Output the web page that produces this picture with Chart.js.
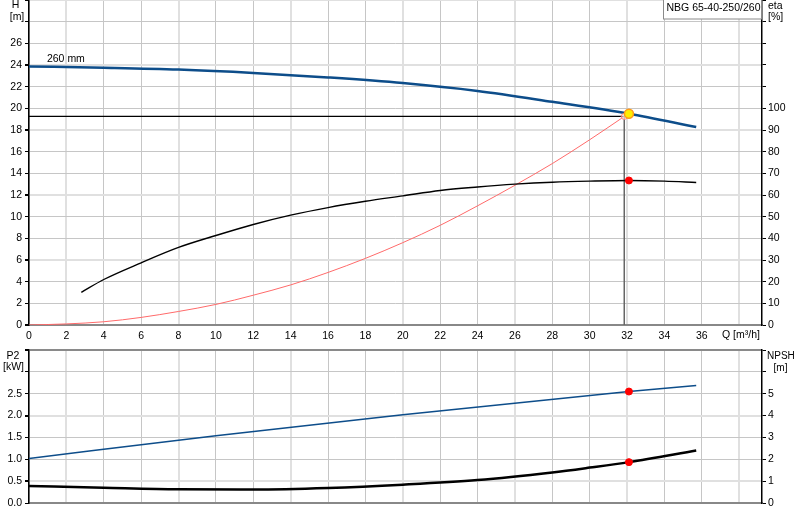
<!DOCTYPE html>
<html>
<head>
<meta charset="utf-8">
<script src="https://cdn.jsdelivr.net/npm/chart.js@4.4.1/dist/chart.umd.min.js"></script>
<style>
  html, body { margin: 0; padding: 0; background: #fff; }
  #wrap { position: relative; width: 800px; height: 520px; }
  canvas { position: absolute; left: 0; }
  #top { top: 0; }
  #bottom { top: 346px; }
</style>
</head>
<body>
<div id="wrap">
  <canvas id="top" width="800" height="346"></canvas>
  <canvas id="bottom" width="800" height="174"></canvas>
</div>
<script>
const qTicks = [0, 2, 4, 6, 8, 10, 12, 14, 16, 18, 20, 22, 24, 26, 28, 30, 32, 34, 36, 38];
const hTicks = [0, 2, 4, 6, 8, 10, 12, 14, 16, 18, 20, 22, 24, 26, 28, 30];
const etaTicks = [0, 10, 20, 30, 40, 50, 60, 70, 80, 90, 100, 110, 120, 130, 140, 150];
const p2Ticks = [0, 0.5, 1.0, 1.5, 2.0, 2.5, 3.0, 3.5];
const npshTicks = [0, 1, 2, 3, 4, 5, 6, 7];

// pump head, 260 mm impeller
const qHead = [0, 4, 8, 12, 16, 20, 24, 28, 32.1, 35.7];
const head = [23.87, 23.75, 23.58, 23.27, 22.85, 22.33, 21.6, 20.6, 19.5, 18.28];

// efficiency
const qEta = [2.8, 4, 6, 8, 10, 12, 14, 16, 18, 20, 22, 24, 26, 28, 30, 32.1, 34, 35.7];
const eta = [15.1, 21.0, 28.7, 35.8, 41.3, 46.4, 50.7, 54.2, 57.1, 59.6, 62.1, 63.7, 65.0, 65.9, 66.4, 66.7, 66.4, 65.8];

// system curve
const qSystem = [0, 2, 4, 6, 8, 10, 12, 14, 16, 18, 20, 22, 24, 26, 28, 30, 31.85];
const systemH = [0, 0.1, 0.3, 0.7, 1.25, 1.9, 2.75, 3.7, 4.85, 6.15, 7.6, 9.2, 11.0, 12.9, 14.9, 17.1, 19.25];

// shaft power P2 [kW]
const qP2 = [0, 10, 20, 32.1, 35.7];
const p2 = [1.02, 1.54, 2.02, 2.55, 2.69];

// NPSH [m]
const qNpsh = [0, 4, 8, 12, 16, 20, 24, 28, 30, 32.1, 35.7];
const npsh = [0.78, 0.70, 0.63, 0.62, 0.69, 0.84, 1.05, 1.40, 1.62, 1.87, 2.40];

// duty / operating point
const opQ = 31.85, opH = 19.25;
const dutyQ = 32.1, dutyH = 19.5, dutyEta = 66.7, dutyP2 = 2.55, dutyNpsh = 1.87;

const FONT = '"Liberation Sans", Arial, sans-serif';
const pts = (xs, ys) => xs.map((x, i) => ({ x: x, y: ys[i] }));

// grid look: every third line drawn lighter and wider, like the sheet
const gridColor = light => light ? '#e0e0e0' : '#c6c6c6';
const near = (v, step, off) => Math.abs(((v - off) / step) - Math.round((v - off) / step)) < 1e-6;

function xScale(showLabels, height) {
    return {
        type: 'linear', min: 0, max: 39.22,
        afterBuildTicks: s => { s.ticks = qTicks.map(v => ({ value: v })); },
        afterFit: s => { s.height = height; s.paddingLeft = 0; s.paddingRight = 0; },
        ticks: {
            display: showLabels, color: '#000', padding: 1,
            font: { family: FONT, size: 10.5 },
            callback: v => (v > 36 ? '' : v)
        },
        grid: {
            color: c => gridColor(near(c.tick.value, 6, 2)),
            lineWidth: c => near(c.tick.value, 6, 2) ? 2 : 1,
            tickLength: 4, tickColor: 'transparent'
        },
        border: { color: '#888', width: 2 }
    };
}

function yScale(pos, ticks, max, limit, fmt, grid, width, lightFn, topColor) {
    return {
        type: 'linear', position: pos, min: 0, max: max,
        afterBuildTicks: s => { s.ticks = ticks.map(v => ({ value: v })); },
        afterFit: s => { s.width = width; s.paddingTop = 0; s.paddingBottom = 0; },
        ticks: {
            color: '#000', padding: pos === 'left' ? 3 : 2,
            font: { family: FONT, size: 10.5 },
            callback: v => (v > limit + 1e-9 ? '' : fmt(v))
        },
        grid: {
            drawOnChartArea: grid,
            color: c => (topColor && c.tick.value === max) ? topColor
                : gridColor(lightFn ? lightFn(c.tick.value) : false),
            lineWidth: c => (lightFn && lightFn(c.tick.value)) ? 2 : 1,
            tickLength: 4, tickColor: '#000'
        },
        border: { color: '#000', width: 1.5 }
    };
}

function label(ctx, text, x, y, align) {
    ctx.textAlign = align || 'left';
    ctx.textBaseline = 'middle';
    ctx.fillText(text, x, y);
}

const topTexts = {
    id: 'topTexts',
    afterDraw(chart) {
        const ctx = chart.ctx, xs = chart.scales.x, ys = chart.scales.y;
        ctx.save();
        ctx.fillStyle = '#000';
        ctx.font = '10.5px ' + FONT;
        label(ctx, 'H', 15.5, 5, 'center');
        label(ctx, '[m]', 17, 17.5, 'center');
        label(ctx, 'eta', 768, 6);
        label(ctx, '[%]', 768, 17.5);
        label(ctx, 'Q [m\u00B3/h]', 722, 335);
        label(ctx, '260 mm', xs.getPixelForValue(0.96), ys.getPixelForValue(24.55));
        // model box
        ctx.fillStyle = '#fff';
        ctx.fillRect(663.5, -1, 98, 20);
        ctx.strokeStyle = '#8a8a8a';
        ctx.lineWidth = 1;
        ctx.strokeRect(663.5, -1.5, 98, 20.5);
        ctx.fillStyle = '#000';
        label(ctx, 'NBG 65-40-250/260', 666.5, 8);
        ctx.restore();
    }
};

const bottomTexts = {
    id: 'bottomTexts',
    afterDraw(chart) {
        const ctx = chart.ctx;
        ctx.save();
        ctx.fillStyle = '#000';
        ctx.font = '10.5px ' + FONT;
        label(ctx, 'P2', 13, 10, 'center');
        label(ctx, '[kW]', 13.5, 21.5, 'center');
        ctx.font = '10px ' + FONT;
        label(ctx, 'NPSH', 767, 10.5);
        label(ctx, '[m]', 780.5, 22, 'center');
        ctx.restore();
    }
};

const noAnim = { animation: false, responsive: false, devicePixelRatio: 1 };
const plain = { legend: { display: false }, tooltip: { enabled: false } };

new Chart(document.getElementById('top'), {
    type: 'line',
    data: {
        datasets: [
            { data: [{ x: dutyQ, y: dutyH }], yAxisID: 'y', showLine: false,
              pointRadius: 4.5, pointBackgroundColor: '#ffee00', pointBorderColor: '#ff9a1a', pointBorderWidth: 1.5 },
            { data: [{ x: dutyQ, y: dutyEta }], yAxisID: 'eta', showLine: false,
              pointRadius: 3.5, pointBackgroundColor: '#ff0000', pointBorderColor: '#ff0000' },
            { data: [{ x: opQ, y: opH }], yAxisID: 'y', showLine: false,
              pointRadius: 3, pointBackgroundColor: 'rgba(255,255,255,0.6)', pointBorderColor: '#ff8080', pointBorderWidth: 1 },
            { data: pts(qHead, head), yAxisID: 'y', borderColor: '#0d4d8a', borderWidth: 2.5,
              pointRadius: 0, cubicInterpolationMode: 'monotone' },
            { data: pts(qEta, eta), yAxisID: 'eta', borderColor: '#000', borderWidth: 1.4,
              pointRadius: 0, cubicInterpolationMode: 'monotone' },
            { data: pts(qSystem, systemH), yAxisID: 'y', borderColor: '#ff6a6a', borderWidth: 1,
              pointRadius: 0, cubicInterpolationMode: 'monotone' },
            { data: [{ x: 0, y: opH }, { x: opQ, y: opH }], yAxisID: 'y', borderColor: '#000', borderWidth: 1.2, pointRadius: 0 },
            { data: [{ x: opQ, y: opH }, { x: opQ, y: 0 }], yAxisID: 'y', borderColor: '#666', borderWidth: 1.5, pointRadius: 0 }
        ]
    },
    options: Object.assign({}, noAnim, {
        layout: { padding: 0, autoPadding: false },
        plugins: plain,
        scales: {
            x: xScale(true, 21),
            y: yScale('left', hTicks, 30, 26, v => v, true, 29, v => near(v, 6, 0)),
            eta: yScale('right', etaTicks, 150, 100, v => v, false, 38)
        }
    }),
    plugins: [topTexts]
});

new Chart(document.getElementById('bottom'), {
    type: 'line',
    data: {
        datasets: [
            { data: [{ x: dutyQ, y: dutyP2 }], yAxisID: 'y', showLine: false,
              pointRadius: 3.5, pointBackgroundColor: '#ff0000', pointBorderColor: '#ff0000' },
            { data: [{ x: dutyQ, y: dutyNpsh }], yAxisID: 'npsh', showLine: false,
              pointRadius: 3.5, pointBackgroundColor: '#ff0000', pointBorderColor: '#ff0000' },
            { data: pts(qP2, p2), yAxisID: 'y', borderColor: '#0d4d8a', borderWidth: 1.5,
              pointRadius: 0, cubicInterpolationMode: 'monotone' },
            { data: pts(qNpsh, npsh), yAxisID: 'npsh', borderColor: '#000', borderWidth: 2.5,
              pointRadius: 0, cubicInterpolationMode: 'monotone' }
        ]
    },
    options: Object.assign({}, noAnim, {
        layout: { padding: { top: 4, left: 0, right: 0, bottom: 0 }, autoPadding: false },
        plugins: plain,
        scales: {
            x: xScale(false, 17),
            y: yScale('left', p2Ticks, 3.5, 2.5, v => v.toFixed(1), true, 29, v => near(v, 1.5, 0.5), '#8a8a8a'),
            npsh: yScale('right', npshTicks, 7, 5, v => v, false, 38)
        }
    }),
    plugins: [bottomTexts]
});
</script>
</body>
</html>
